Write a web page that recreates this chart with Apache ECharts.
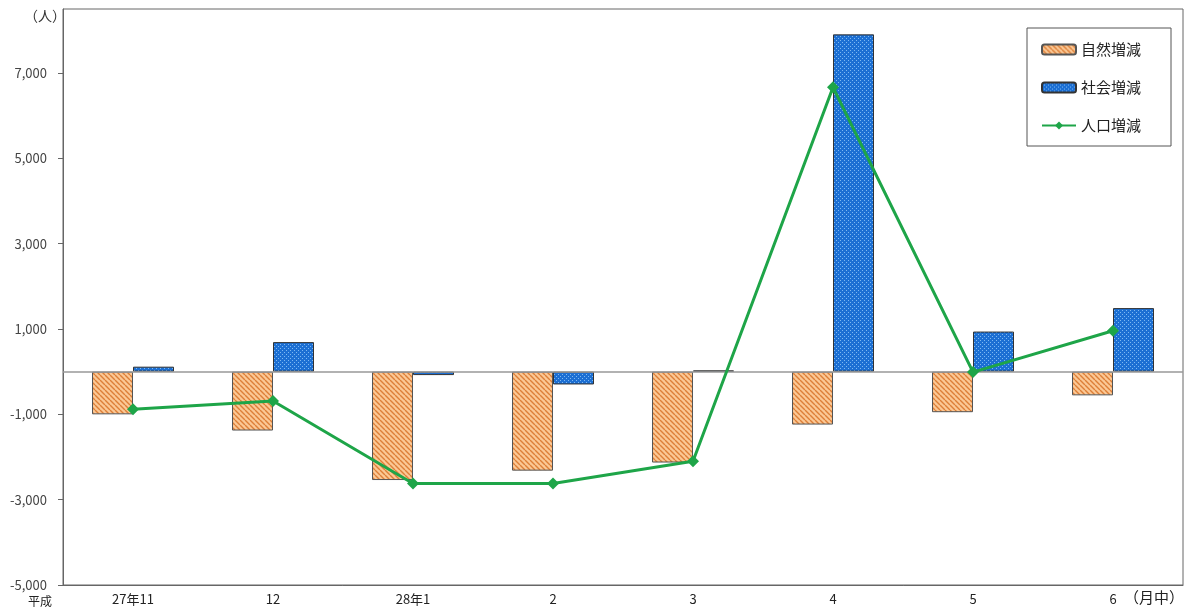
<!DOCTYPE html>
<html>
<head>
<meta charset="utf-8">
<script src="https://cdn.jsdelivr.net/npm/echarts@6/dist/echarts.min.js"></script>
<style>
  html, body { margin: 0; padding: 0; background: #fff; }
  #chart { width: 1190px; height: 610px; }
</style>
</head>
<body>
<div id="chart"></div>
<script>
// Monthly population change (persons)
var months = ['27年11', '12', '28年1', '2', '3', '4', '5', '6'];
var naturalChange = [-1000, -1380, -2540, -2320, -2130, -1240, -950, -555];
var socialChange = [117, 693, -80, -300, 30, 7906, 940, 1490];
var totalChange = [-883, -687, -2620, -2620, -2100, 6666, -10, 960];
var yTicks = { min: -5000, max: 8500, interval: 2000 };

// Hatched fill for natural change bars
function hatchPattern() {
  var c = document.createElement('canvas');
  c.width = 5; c.height = 5;
  var g = c.getContext('2d');
  g.fillStyle = '#fbc895';
  g.fillRect(0, 0, 5, 5);
  g.strokeStyle = '#dd7f38';
  g.lineWidth = 1.4;
  g.beginPath();
  for (var k = -5; k <= 10; k += 5) {
    g.moveTo(k, 0);
    g.lineTo(k + 5, 5);
  }
  g.stroke();
  return c;
}

// Dotted fill for social change bars
function dotPattern() {
  var c = document.createElement('canvas');
  c.width = 4; c.height = 4;
  var g = c.getContext('2d');
  g.fillStyle = '#1c6fd3';
  g.fillRect(0, 0, 4, 4);
  g.fillStyle = '#7db8f2';
  g.fillRect(0, 0, 1, 1);
  g.fillRect(2, 2, 1, 1);
  return c;
}

var chart = echarts.init(document.getElementById('chart'));
var fontCJK = '"Noto Sans CJK JP", "Noto Sans", sans-serif';

chart.setOption({
  animation: false,
  backgroundColor: '#fff',
  textStyle: { fontFamily: fontCJK },
  grid: {
    left: 63, right: 7, top: 9, bottom: 25,
    show: true, borderColor: '#666', borderWidth: 1
  },
  legend: {
    orient: 'vertical',
    left: 1027, top: 28,
    padding: [14, 30, 13, 14],
    itemGap: 23,
    itemWidth: 34, itemHeight: 10,
    borderColor: '#555', borderWidth: 1,
    backgroundColor: '#fff',
    textStyle: { fontSize: 15, color: '#222', fontFamily: fontCJK },
    data: ['自然増減', '社会増減', '人口増減']
  },
  xAxis: {
    type: 'category',
    data: months,
    boundaryGap: true,
    axisLine: { onZero: false, lineStyle: { color: '#666' } },
    axisTick: { show: false },
    axisLabel: { color: '#222', fontSize: 13, margin: 8, fontFamily: fontCJK }
  },
  yAxis: {
    type: 'value',
    min: yTicks.min, max: yTicks.max, interval: yTicks.interval,
    axisLine: { show: true, lineStyle: { color: '#666' } },
    axisTick: { show: true, length: 5, lineStyle: { color: '#666' } },
    splitLine: { show: false },
    axisLabel: {
      showMaxLabel: false,
      color: '#444', fontSize: 13, margin: 16,
      fontFamily: fontCJK,
      formatter: function (v) { return v.toLocaleString('en-US'); }
    }
  },
  series: [
    {
      name: '自然増減',
      type: 'bar',
      data: naturalChange,
      barWidth: 41,
      barGap: '0%',
      itemStyle: {
        color: { image: hatchPattern(), repeat: 'repeat' },
        borderColor: '#555', borderWidth: 1
      },
      markLine: {
        silent: true,
        symbol: 'none',
        label: { show: false },
        lineStyle: { color: '#999', width: 1.5, type: 'solid' },
        data: [{ yAxis: 0 }]
      }
    },
    {
      name: '社会増減',
      type: 'bar',
      data: socialChange,
      barWidth: 41,
      barGap: '0%',
      itemStyle: {
        color: { image: dotPattern(), repeat: 'repeat' },
        borderColor: '#333', borderWidth: 1
      }
    },
    {
      name: '人口増減',
      type: 'line',
      data: totalChange,
      z: 5,
      symbol: 'diamond',
      symbolSize: 12,
      lineStyle: { color: '#1ea548', width: 3 },
      itemStyle: { color: '#1ea548' }
    }
  ],
  graphic: [
    { type: 'text', left: 24, top: 9, style: { text: '（人）', font: '14px ' + fontCJK, fill: '#333' } },
    { type: 'text', left: 28, top: 595, style: { text: '平成', font: '12px ' + fontCJK, fill: '#222' } },
    { type: 'text', left: 1124, top: 590, style: { text: '（月中）', font: '15px ' + fontCJK, fill: '#222' } }
  ]
});
</script>
</body>
</html>
